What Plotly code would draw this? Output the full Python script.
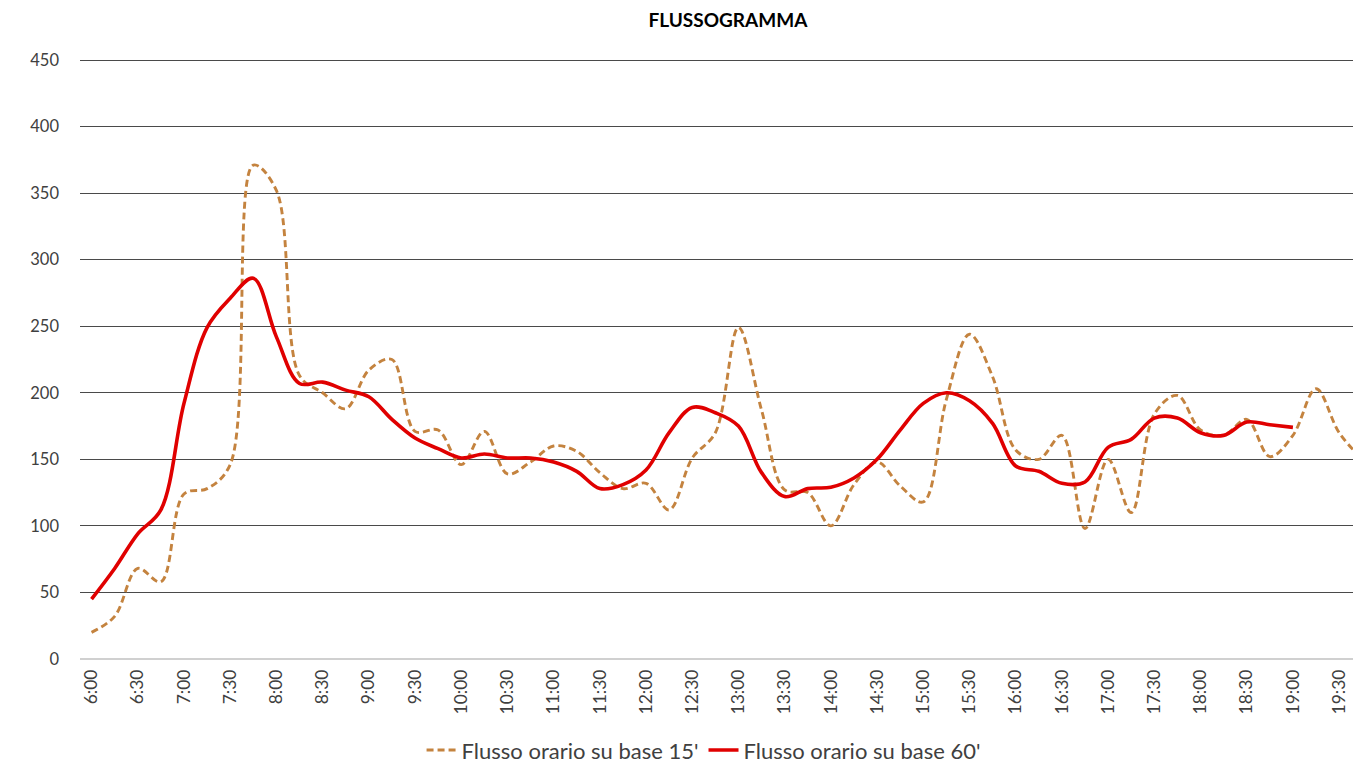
import plotly.graph_objects as go

# categories: 15-minute slots from 6:00 to 19:45
times = [f"{6 + (15 * k) // 60}:{(15 * k) % 60:02d}" for k in range(56)]
tick_labels = times[::2]

flusso_15 = [20, 32, 68, 58, 124, 128, 146, 371, 352, 213,
             200, 188, 217, 225, 171, 172, 146, 171, 139, 148,
             160, 156, 140, 128, 132, 112, 151, 170, 249, 187,
             127, 125, 100, 131, 148, 130, 118, 195, 244, 212,
             157, 150, 168, 98, 150, 110, 184, 198, 172, 168,
             180, 152, 168, 203, 170, 150]

flusso_60 = [45, 68, 94, 112, 192, 249, 271, 286, 242, 207,
             208, 202, 197, 180, 166, 158, 151, 154, 151, 151,
             148, 141, 128, 131, 142, 170, 189, 185, 175, 140,
             122, 128, 129, 136, 150, 172, 192, 200, 194, 177,
             145, 141, 132, 133, 159, 165, 181, 181, 170, 168,
             178, 176, 174, None, None, None]

fig = go.Figure()
fig.add_trace(go.Scatter(
    x=times, y=flusso_15, name="Flusso orario su base 15'",
    mode="lines", line=dict(color="#C4833F", width=2.9, dash="7px,4px",
                            shape="spline", smoothing=1.0),
))
fig.add_trace(go.Scatter(
    x=times, y=flusso_60, name="Flusso orario su base 60'",
    mode="lines", line=dict(color="#E00000", width=3.6,
                            shape="spline", smoothing=1.0),
    connectgaps=False,
))

font_family = "Lato, 'Open Sans', sans-serif"
fig.update_layout(
    width=1353, height=771,
    paper_bgcolor="white", plot_bgcolor="white",
    margin=dict(l=80, r=0, t=57, b=112, autoexpand=False),
    title=dict(text="<b>FLUSSOGRAMMA</b>", x=0.538, xref="container",
               xanchor="center", y=0.973, yref="container", yanchor="middle",
               font=dict(family=font_family, size=19, color="#000000")),
    font=dict(family=font_family, size=16, color="#404040"),
    showlegend=True,
    legend=dict(orientation="h", x=0.52, xref="container", xanchor="center",
                y=0.027, yref="container", yanchor="middle",
                font=dict(family=font_family, size=22, color="#404040"),
                itemwidth=30, tracegroupgap=0, bgcolor="rgba(0,0,0,0)"),
)
fig.update_xaxes(
    type="category", categoryorder="array", categoryarray=times,
    range=[-0.5, 54.6], tickmode="array", tickvals=tick_labels, ticktext=tick_labels,
    tickangle=-90, showgrid=False, showline=False, zeroline=False, ticks="",
    ticklabelstandoff=6, automargin=False,
    tickfont=dict(family=font_family, size=17.5, color="#404040"),
)
fig.update_yaxes(
    range=[0, 452.25], dtick=50, tick0=0, showgrid=True, gridcolor="#4a4a4a",
    gridwidth=1, zeroline=True, zerolinecolor="#d0d0d0", zerolinewidth=1.5,
    showline=False, ticks="", ticklabelstandoff=20, automargin=False,
    tickfont=dict(family=font_family, size=16.5, color="#404040"),
)

fig.write_html("out.html", config={"displayModeBar": False},
               post_script="document.body.style.margin='0';")
